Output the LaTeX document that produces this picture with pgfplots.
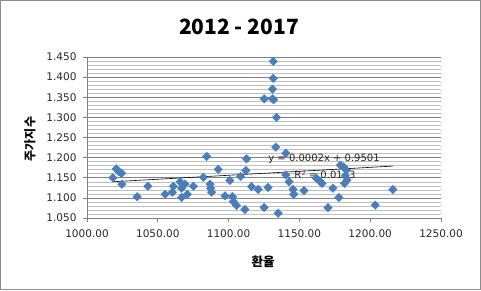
\documentclass[border=0pt]{standalone}
\usepackage{pgfplots}
\pgfplotsset{compat=1.18}
\usepackage{fontspec}
\setmainfont{DejaVu Sans}
\newfontfamily\kr{Noto Sans CJK KR}
\definecolor{ptblue}{RGB}{74,126,187}
\begin{document}
\begin{tikzpicture}
\useasboundingbox (0pt,0pt) rectangle (481pt,290pt);
\draw[black!45, line width=0.8pt] (0.5pt,0.5pt) rectangle (480.5pt,289.5pt);
\node[font=\kr\bfseries\fontsize{21}{24}\selectfont] at (239pt,263pt) {2012 - 2017};
\node[font=\kr\bfseries\fontsize{12}{14}\selectfont, rotate=90] at (30pt,151pt) {주가지수};
\node[font=\kr\bfseries\fontsize{12.5}{14}\selectfont] at (263pt,28pt) {환율};
\begin{axis}[
  at={(87pt,72pt)}, anchor=south west,
  scale only axis, width=354pt, height=161pt,
  xmin=1000, xmax=1250, ymin=1.05, ymax=1.45,
  xtick={1000,1050,...,1250},
  ytick={1.05,1.10,...,1.46},
  minor y tick num=4,
  ymajorgrids, yminorgrids,
  major grid style={black!50, line width=0.6pt},
  minor grid style={black!25, line width=0.5pt},
  axis x line*=bottom, axis y line*=left,
  axis line style={black!50, line width=0.7pt, -},
  tick style={black!50, line width=0.7pt},
  major tick length=4pt, minor tick length=0pt,
  tick align=outside,
  xtick pos=bottom, ytick pos=left,
  tick label style={font=\fontsize{10.5}{12}\selectfont, text=black!85},
  /pgf/number format/assume math mode=true,
  xticklabel style={/pgf/number format/fixed, /pgf/number format/fixed zerofill, /pgf/number format/precision=2, /pgf/number format/1000 sep={}, yshift=-4pt},
  yticklabel style={/pgf/number format/fixed, /pgf/number format/fixed zerofill, /pgf/number format/precision=3, xshift=-3pt},
  clip=false,
]
\addplot[only marks, mark=square*, mark size=3pt, mark options={rotate=45, fill=ptblue, draw=ptblue}] coordinates {
(1018.3,1.150) (1020.7,1.172) (1022.5,1.165) (1024.4,1.161) (1024.6,1.134)
(1035.4,1.103) (1043.0,1.129) (1055.2,1.109) (1060.3,1.114) (1061.0,1.129)
(1065.7,1.140) (1066.9,1.124) (1066.9,1.101) (1069.2,1.134) (1070.9,1.109)
(1075.1,1.129) (1082.2,1.151) (1084.5,1.203) (1086.9,1.134) (1087.3,1.124)
(1088.0,1.114) (1092.7,1.171) (1097.4,1.105) (1100.9,1.143) (1102.8,1.103)
(1103.3,1.091) (1105.6,1.081) (1108.5,1.153) (1111.5,1.071) (1112.2,1.168)
(1112.7,1.197) (1116.2,1.128) (1120.9,1.121) (1125.1,1.346) (1125.1,1.076)
(1127.9,1.126) (1131.0,1.370) (1131.0,1.346) (1131.5,1.439) (1131.5,1.397)
(1131.9,1.344) (1133.8,1.300) (1133.3,1.226) (1135.0,1.062) (1140.4,1.211)
(1140.4,1.157) (1142.7,1.140) (1145.5,1.121) (1146.0,1.109) (1153.3,1.118)
(1162.0,1.149) (1164.8,1.140) (1166.0,1.136) (1170.2,1.076) (1173.7,1.124)
(1177.9,1.101) (1178.9,1.181) (1181.2,1.177) (1183.1,1.169) (1181.9,1.136)
(1183.6,1.144) (1182.5,1.155) (1203.5,1.082) (1216.0,1.121)
};
\addplot[black, line width=0.6pt] coordinates {(1018,1.140) (1216,1.179)};
\node[font=\fontsize{10}{12}\selectfont, text=black!85] at (axis cs:1167.4,1.197) {y = 0.0002x + 0.9501};
\node[font=\fontsize{10}{12}\selectfont, text=black!85] at (axis cs:1168,1.157) {R$^2$ = 0.0113};
\end{axis}
\end{tikzpicture}
\end{document}
